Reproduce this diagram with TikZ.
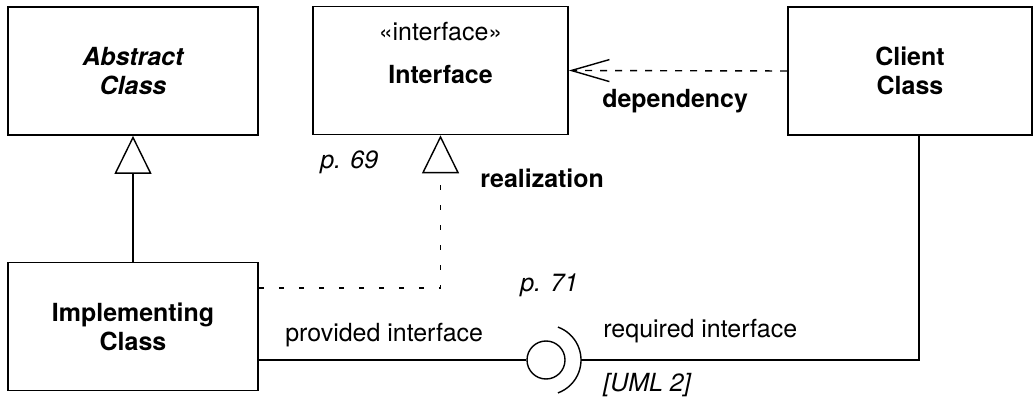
\documentclass[tikz,border=0pt]{standalone}
\usepackage{fontspec}
\setmainfont{TeX Gyre Heros}
\usetikzlibrary{arrows.meta,positioning}
\newcommand{\diagfont}{\fontsize{14.2}{16.5}\selectfont}
\tikzset{
    classbox/.style={draw, line width=1pt, inner sep=0pt, minimum width=#1, minimum height=2.56cm, align=center, font=\diagfont\bfseries},
    inherit/.style={line width=0.8pt, -{Triangle[open, length=0.76cm, width=0.74cm]}},
    realize/.style={inherit, dash pattern=on 0.1cm off 0.3cm},
    depend/.style={line width=0.8pt, -{Straight Barb[length=0.76cm, width=0.44cm]}, dash pattern=on 0.14cm off 0.16cm},
    wire/.style={line width=0.8pt},
    note/.style={anchor=base west, inner sep=0pt, font=\diagfont},
}

\begin{document}
\begin{tikzpicture}
    \useasboundingbox (0,0) rectangle (20.68,8);
    \node[classbox=5cm] (abstract) at (2.66,6.58) {\itshape Abstract\\\itshape Class};
    \node[classbox=5.1cm] (iface) at (8.81,6.59) {};
    \node[below=0.32cm of iface.north, inner sep=0pt, align=center, font=\diagfont] (ifacename) {«interface»\\[0.28cm]\textbf{Interface}};
    \node[classbox=4.88cm] (client) at (18.2,6.58) {Client\\Class};
    \node[classbox=5cm] (impl) at (2.66,1.47) {Implementing\\Class};
    % generalization and realization
    \draw[inherit] (impl.north) -- (abstract.south);
    \coordinate (realturn) at (iface.south |- 0,2.24);
    \draw[realize] (realturn -| impl.east) -- (realturn) -- (iface.south);
    \draw[depend] (client.west) -- (iface.east);
	% ball and socket
    \node[circle, draw, wire, inner sep=0pt, minimum size=0.76cm] (ball) at (10.92,0.8) {};
    \draw[wire] (ball.center) ++(70:0.7) arc[start angle=70, end angle=-70, radius=0.7];
    \coordinate (socket) at ([xshift=0.7cm]ball.center);
    \coordinate (reqturn) at (18.38,0.8);
    \draw[wire] (impl.east |- ball) -- (ball.west);
    \draw[wire] (socket) -- (reqturn) -- (reqturn |- client.south);
    \node[note, font=\diagfont\itshape] (p69) at (6.4,4.62) {p. 69};
    \node[note, font=\diagfont\bfseries] (realname) at (9.6,4.24) {realization};
    \node[note, font=\diagfont\bfseries] (depname) at (12.04,5.84) {dependency};
    \node[note, font=\diagfont\itshape] (p71) at (10.4,2.16) {p. 71};
    \node[note] (provname) at (5.7,1.16) {provided interface};
    \node[note] (reqname) at (12.06,1.24) {required interface};
    \node[note, font=\diagfont\itshape] (uml) at (12.06,0.16) {[UML 2]};
\end{tikzpicture}
\end{document}
